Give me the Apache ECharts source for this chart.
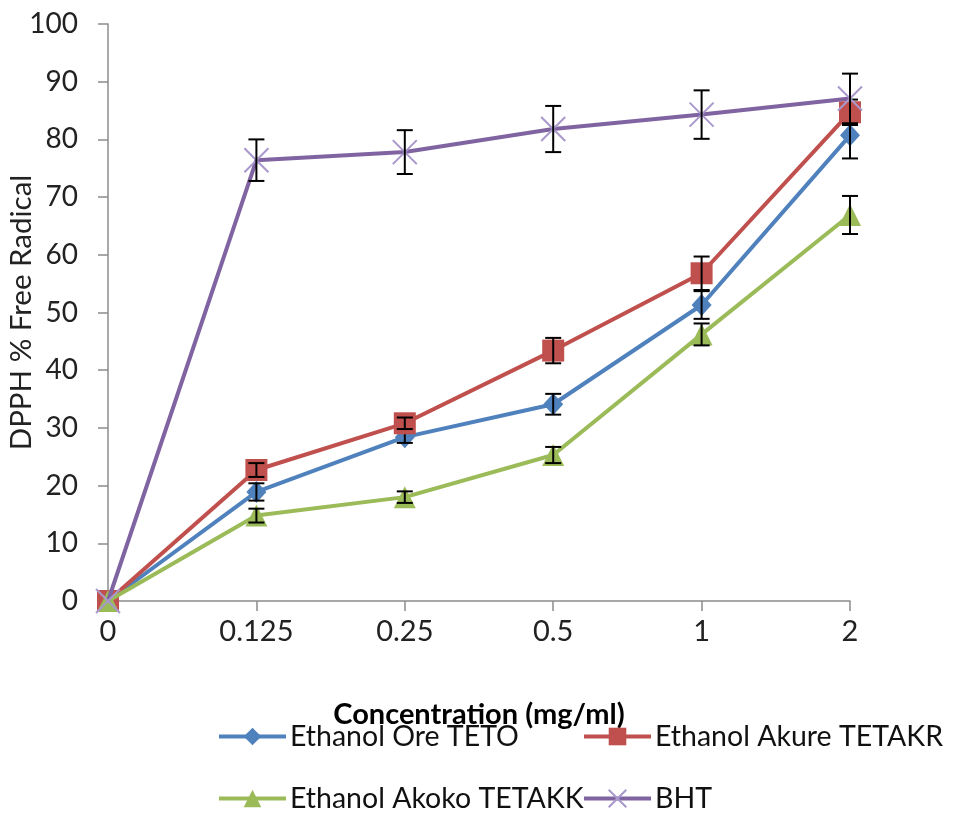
<!DOCTYPE html>
<html><head><meta charset="utf-8">
<script src="https://cdn.jsdelivr.net/npm/echarts@6/dist/echarts.min.js"></script>
<style>html,body{margin:0;padding:0;background:#fff}#c{width:971px;height:833px}</style>
</head><body><div id="c"></div>
<script>
var categories = ['0', '0.125', '0.25', '0.5', '1', '2'];
var yTicks = [0, 10, 20, 30, 40, 50, 60, 70, 80, 90, 100];
var teto = [0, 18.9, 28.4, 34.1, 51.3, 80.7];
var tetoErr = [0, 1.5, 1.0, 1.8, 2.4, 4.0];
var tetakr = [0, 22.7, 30.8, 43.4, 56.8, 84.7];
var tetakrErr = [0, 1.2, 1.0, 2.2, 2.9, 2.2];
var tetakk = [0, 14.8, 18.0, 25.3, 46.2, 66.9];
var tetakkErr = [0, 1.2, 1.0, 1.4, 1.9, 3.3];
var bht = [0, 76.4, 77.8, 81.8, 84.3, 87.1];
var bhtErr = [0, 3.6, 3.8, 4.0, 4.2, 4.3];
var names = ['Ethanol Ore TETO', 'Ethanol Akure TETAKR', 'Ethanol Akoko TETAKK', 'BHT'];

var FONT = 'Lato';
var chart = echarts.init(document.getElementById('c'), null, {renderer: 'canvas'});

function errSeries(vals, errs, z) {
  var data = vals.map(function (v, i) { return [i, v - errs[i], v + errs[i]]; });
  return {
    type: 'custom', z: z, silent: true,
    renderItem: function (params, api) {
      var x = api.value(0);
      if (api.value(2) - api.value(1) <= 0) return null;
      var lo = api.coord([x, api.value(1)]);
      var hi = api.coord([x, api.value(2)]);
      var hw = 8;
      var st = {stroke: '#000', lineWidth: 2};
      return {type: 'group', children: [
        {type: 'line', shape: {x1: lo[0], y1: lo[1], x2: hi[0], y2: hi[1]}, style: st},
        {type: 'line', shape: {x1: lo[0] - hw, y1: lo[1], x2: lo[0] + hw, y2: lo[1]}, style: st},
        {type: 'line', shape: {x1: hi[0] - hw, y1: hi[1], x2: hi[0] + hw, y2: hi[1]}, style: st}
      ]};
    },
    encode: {x: 0, y: [1, 2]},
    data: data
  };
}

function lineSeries(name, vals, color, symbol, size, z, extra) {
  var s = {
    name: name, type: 'line', data: vals, z: z,
    symbol: symbol, symbolSize: size,
    lineStyle: {color: color, width: 4},
    itemStyle: {color: color},
    emphasis: {disabled: true}
  };
  if (extra) Object.assign(s, extra);
  return s;
}

var legendText = {fontFamily: FONT, fontSize: 28.5, color: '#111', padding: [0, 0, 0, -1]};
function legendCol(items, left) {
  return {data: items, orient: 'vertical', left: left, top: 722, itemGap: 33,
    itemWidth: 67, itemHeight: 22, textStyle: legendText, padding: 0, selectedMode: false,
    lineStyle: {width: 4}};
}

chart.setOption({
  animation: false,
  backgroundColor: '#fff',
  grid: {left: 108, right: 121, top: 24, bottom: 232, containLabel: false, outerBoundsMode: 'none'},
  xAxis: {
    type: 'category', data: categories, boundaryGap: false,
    axisLine: {lineStyle: {color: '#8c8c8c', width: 1.5}},
    axisTick: {show: true, length: 10, lineStyle: {color: '#8c8c8c', width: 1.5}},
    axisLabel: {fontFamily: FONT, fontSize: 29, color: '#222', margin: 16},
    name: 'Concentration (mg/ml)', nameLocation: 'middle', nameGap: 114, nameMoveOverlap: false,
    nameTextStyle: {fontFamily: FONT, fontSize: 29, fontWeight: 'bold', color: '#000', verticalAlign: 'middle'}
  },
  yAxis: {
    type: 'value', min: 0, max: 100, interval: 10,
    axisLine: {show: true, lineStyle: {color: '#8c8c8c', width: 1.5}},
    axisTick: {show: true, length: 10, lineStyle: {color: '#8c8c8c', width: 1.5}},
    splitLine: {show: false},
    axisLabel: {fontFamily: FONT, fontSize: 28, color: '#222', margin: 30,
      formatter: function (v) { return yTicks.indexOf(v) >= 0 ? String(v) : ''; }},
    name: 'DPPH % Free Radical', nameLocation: 'middle', nameGap: 72, nameMoveOverlap: false,
    nameTextStyle: {fontFamily: FONT, fontSize: 29.5, color: '#222'}
  },
  legend: [
    legendCol([names[0], names[2]], 217),
    legendCol([names[1], names[3]], 582)
  ],
  series: [
    lineSeries(names[0], teto, '#4F81BD', 'diamond', [20, 22], 2),
    errSeries(teto, tetoErr, 3),
    lineSeries(names[1], tetakr, '#C0504D', 'rect', 22, 4),
    errSeries(tetakr, tetakrErr, 5),
    lineSeries(names[2], tetakk, '#9BBB59', 'triangle', 22, 6),
    errSeries(tetakk, tetakkErr, 7),
    lineSeries(names[3], bht, '#8064A2', 'path://M0,0L10,10M10,0L0,10', 24, 8,
      {itemStyle: {color: 'none', borderColor: '#A898CC', borderWidth: 2}}),
    errSeries(bht, bhtErr, 9)
  ]
});
</script></body></html>
